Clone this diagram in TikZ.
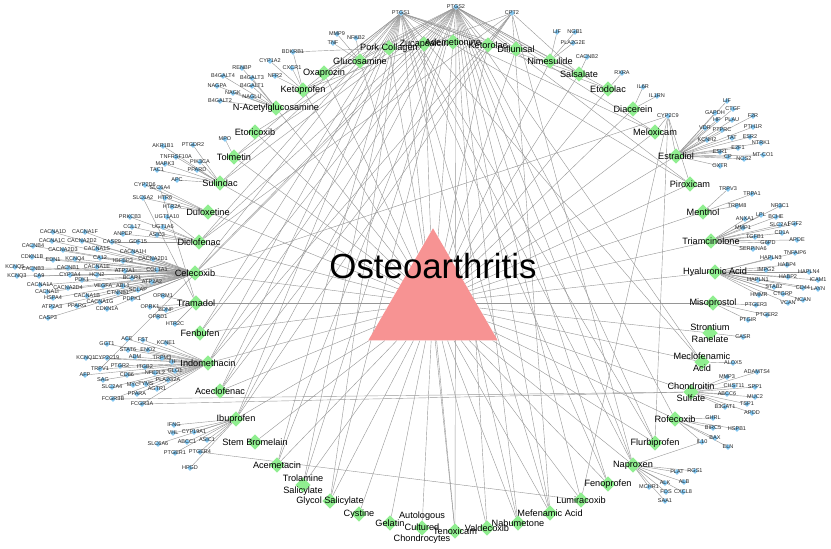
\documentclass[tikz,border=0pt]{standalone}
\usepackage{fontspec}
\setmainfont{Liberation Sans}
\usepackage{tikz}
\usetikzlibrary{shapes.geometric,backgrounds}

\definecolor{drugfill}{RGB}{144,238,144}
\definecolor{genefill}{RGB}{130,198,240}
\definecolor{hubfill}{RGB}{247,147,147}
\definecolor{linkgray}{RGB}{150,150,150}

\begin{document}
\begin{tikzpicture}
  [
  x=0.85pt, y=-0.85pt,
  dlabel/.style={font={\fontsize{7.8}{9.8}\selectfont}, align=center, inner sep=0pt},
  glabel/.style={font={\fontsize{4.7}{5.6}\selectfont}, text=black!85, inner sep=0pt},
  drug/.style={diamond, fill=drugfill, inner sep=0pt, minimum size=13pt,
      label={[dlabel]center:#1}},
  gene/.style={diamond, fill=genefill, inner sep=0pt, minimum size=5.2pt,
      label={[glabel]center:#1}},
  disease/.style={regular polygon, regular polygon sides=3, fill=hubfill,
      inner sep=0pt, minimum size=127pt},
  every edge/.style={draw=linkgray, line width=0.35pt},
  ]
  \useasboundingbox (0,0) rectangle (831,549);

  % Disease
  \node[disease] (oa) at (433,303) {};
  \node[font={\fontsize{29.6}{30}\selectfont}] (oatext) at (433,266) {Osteoarthritis};

  % Drugs, clockwise from the top
  \node[drug=Pork Collagen] (pork) at (389,48) {};
  \node[drug=Zucapsaicin] (zuca) at (424,44) {};
  \node[drug=Ademetionine] (adem) at (453,42) {};
  \node[drug=Ketorolac] (keto) at (488,45) {};
  \node[drug=Diflunisal] (difl) at (516,49) {};
  \node[drug=Nimesulide] (nime) at (550,61) {};
  \node[drug=Salsalate] (sals) at (579,74) {};
  \node[drug=Etodolac] (etod) at (608,89) {};
  \node[drug=Diacerein] (diac) at (633,109) {};
  \node[drug=Meloxicam] (melo) at (655,132) {};
  \node[drug=Estradiol] (estr) at (676,156) {};
  \node[drug=Piroxicam] (piro) at (690,184) {};
  \node[drug=Menthol] (ment) at (703,212) {};
  \node[drug=Triamcinolone] (tria) at (711,241) {};
  \node[drug=Hyaluronic Acid] (hyal) at (715,272) {};
  \node[drug=Misoprostol] (miso) at (713,303) {};
  \node[drug={Strontium\\Ranelate}] (stro) at (710,333) {};
  \node[drug={Meclofenamic\\Acid}] (mecl) at (702,362) {};
  \node[drug={Chondroitin\\Sulfate}] (chon) at (691,392) {};
  \node[drug=Rofecoxib] (rofe) at (675,419) {};
  \node[drug=Flurbiprofen] (flur) at (655,443) {};
  \node[drug=Naproxen] (napr) at (633,465) {};
  \node[drug=Fenoprofen] (feno) at (608,484) {};
  \node[drug=Lumiracoxib] (lumi) at (581,500) {};
  \node[drug=Mefenamic Acid] (mefe) at (550,513) {};
  \node[drug=Nabumetone] (nabu) at (518,523) {};
  \node[drug=Valdecoxib] (vald) at (487,528) {};
  \node[drug=Tenoxicam] (teno) at (455,531) {};
  \node[drug={Autologous\\Cultured\\Chondrocytes}] (auto) at (422,528) {};
  \node[drug=Gelatin] (gela) at (390,523) {};
  \node[drug=Cystine] (cyst) at (359,514) {};
  \node[drug=Glycol Salicylate] (glyc) at (330,501) {};
  \node[drug={Trolamine\\Salicylate}] (trol) at (303,485) {};
  \node[drug=Acemetacin] (acem) at (277,465) {};
  \node[drug=Stem Bromelain] (stem) at (255,442) {};
  \node[drug=Ibuprofen] (ibup) at (236,419) {};
  \node[drug=Aceclofenac] (acec) at (220,391) {};
  \node[drug=Indomethacin] (indo) at (208,363) {};
  \node[drug=Fenbufen] (fenb) at (200,333) {};
  \node[drug=Tramadol] (tram) at (196,303) {};
  \node[drug=Celecoxib] (celx) at (195,273) {};
  \node[drug=Diclofenac] (dicl) at (199,242) {};
  \node[drug=Duloxetine] (dulo) at (208,212) {};
  \node[drug=Sulindac] (suli) at (220,183) {};
  \node[drug=Tolmetin] (tolm) at (234,157) {};
  \node[drug=Etoricoxib] (etor) at (255,132) {};
  \node[drug=N-Acetylglucosamine] (nace) at (276,108) {};
  \node[drug=Ketoprofen] (ktpf) at (303,90) {};
  \node[drug=Oxaprozin] (oxap) at (324,73) {};
  \node[drug=Glucosamine] (gluc) at (360,61) {};

  % Targets, top
  \node[gene=PTGS1] (PTGS1) at (401,13) {};
  \node[gene=PTGS2] (PTGS2) at (456,7) {};
  \node[gene=CPT2] (CPT2) at (512,13) {};
  \node[gene=MMP9] (MMP9) at (337,34) {};
  \node[gene=NFKB2] (NFKB2) at (356,38) {};
  \node[gene=TNF] (TNF) at (333,43) {};
  \node[gene=BDKRB1] (BDKRB1) at (293,52) {};
  \node[gene=CYP1A2] (CYP1A2) at (270,61) {};
  \node[gene=CXCR1] (CXCR1) at (292,68) {};
  \node[gene=RENBP] (RENBP) at (242,68) {};
  \node[gene=B4GALT4] (B4GALT4) at (223,76) {};
  \node[gene=B4GALT3] (B4GALT3) at (252,78) {};
  \node[gene=NFR2] (NFR2) at (275,76) {};
  \node[gene=NAGPA] (NAGPA) at (217,86) {};
  \node[gene=B4GALT1] (B4GALT1) at (252,86) {};
  \node[gene=NAGK] (NAGK) at (233,93) {};
  \node[gene=NAGLU] (NAGLU) at (252,97) {};
  \node[gene=B4GALT2] (B4GALT2) at (220,101) {};
  \node[gene=MPO] (MPO) at (225,139) {};
  \node[gene=LIF] (LIFa) at (557,32) {};
  \node[gene=NGB1] (NGB1) at (575,32) {};
  \node[gene=PLA2G2E] (PLA2G2E) at (573,43) {};
  \node[gene=CACNB2] (CACNB2) at (587,57) {};
  \node[gene=RXRA] (RXRA) at (622,73) {};
  \node[gene=IL6R] (IL6R) at (643,87) {};
  \node[gene=IL1RN] (IL1RN) at (657,96) {};

  % Targets, right
  \node[gene=CYP2C9] (CYP2C9) at (668,116) {};
  \node[gene=LIF] (LIF) at (727,101) {};
  \node[gene=GAPDH] (GAPDH) at (715,113) {};
  \node[gene=CTGF] (CTGF) at (733,109) {};
  \node[gene=F2R] (F2R) at (753,116) {};
  \node[gene=HP] (HP) at (717,120) {};
  \node[gene=PLAU] (PLAU) at (732,120) {};
  \node[gene=VDR] (VDR) at (705,128) {};
  \node[gene=PTPRC] (PTPRC) at (722,130) {};
  \node[gene=PTH1R] (PTH1R) at (753,127) {};
  \node[gene=KCNH2] (KCNH2) at (707,140) {};
  \node[gene=TAT] (TAT) at (732,138) {};
  \node[gene=ESR2] (ESR2) at (750,137) {};
  \node[gene=NTRK1] (NTRK1) at (761,143) {};
  \node[gene=E2F1] (E2F1) at (738,148) {};
  \node[gene=ESR1] (ESR1) at (720,152) {};
  \node[gene=MT-CO1] (MTCO1) at (763,155) {};
  \node[gene=CP] (CP) at (728,157) {};
  \node[gene=NOS2] (NOS2) at (744,159) {};
  \node[gene=OXTR] (OXTR) at (720,166) {};
  \node[gene=TRPV3] (TRPV3) at (728,189) {};
  \node[gene=TRPA1] (TRPA1) at (752,194) {};
  \node[gene=TRPM8] (TRPM8) at (737,206) {};
  \node[gene=NR3C1] (NR3C1) at (780,206) {};
  \node[gene=LPL] (LPL) at (761,215) {};
  \node[gene=BCHE] (BCHE) at (776,217) {};
  \node[gene=ANXA1] (ANXA1) at (745,219) {};
  \node[gene=FGF2] (FGF2) at (795,224) {};
  \node[gene=SLC2A1] (SLC2A1) at (780,225) {};
  \node[gene=MMP1] (MMP1) at (743,228) {};
  \node[gene=CD1A] (CD1A) at (782,233) {};
  \node[gene=APOE] (APOE) at (797,240) {};
  \node[gene=TGFB1] (TGFB1) at (755,237) {};
  \node[gene=G6PD] (G6PD) at (768,243) {};
  \node[gene=SERPINA6] (SERPINA6) at (753,249) {};
  \node[gene=TNFAIP6] (TNFAIP6) at (795,253) {};
  \node[gene=HAPLN3] (HAPLN3) at (771,258) {};
  \node[gene=HABP4] (HABP4) at (787,265) {};
  \node[gene=HAPLN4] (HAPLN4) at (809,272) {};
  \node[gene=IMPG2] (IMPG2) at (766,270) {};
  \node[gene=HABP2] (HABP2) at (788,277) {};
  \node[gene=ICAM1] (ICAM1) at (818,280) {};
  \node[gene=HAPLN1] (HAPLN1) at (758,280) {};
  \node[gene=STAB2] (STAB2) at (774,287) {};
  \node[gene=CD44] (CD44) at (803,288) {};
  \node[gene=LAYN] (LAYN) at (818,289) {};
  \node[gene=HMMR] (HMMR) at (759,295) {};
  \node[gene=CTGRP] (CTGRP) at (783,294) {};
  \node[gene=NCAN] (NCAN) at (803,300) {};
  \node[gene=VCAN] (VCAN) at (788,303) {};
  \node[gene=PTGER3] (PTGER3) at (756,305) {};
  \node[gene=PTGER2] (PTGER2) at (767,315) {};
  \node[gene=PTGIR] (PTGIR) at (748,320) {};
  \node[gene=CASR] (CASR) at (743,337) {};
  \node[gene=ALOX5] (ALOX5) at (733,363) {};
  \node[gene=ADAMTS4] (ADAMTS4) at (757,372) {};
  \node[gene=MMP3] (MMP3) at (727,377) {};
  \node[gene=CHST11] (CHST11) at (734,386) {};
  \node[gene=SPP1] (SPP1) at (755,387) {};
  \node[gene=ABCC6] (ABCC6) at (727,394) {};
  \node[gene=MUC2] (MUC2) at (755,397) {};
  \node[gene=TSP1] (TSP1) at (747,404) {};
  \node[gene=B3GAT1] (B3GAT1) at (725,407) {};
  \node[gene=APOD] (APOD) at (752,413) {};
  \node[gene=GHRL] (GHRL) at (713,418) {};
  \node[gene=BIRC5] (BIRC5) at (713,428) {};
  \node[gene=HSPB1] (HSPB1) at (737,429) {};
  \node[gene=BAX] (BAX) at (715,438) {};
  \node[gene=IL10] (IL10) at (702,442) {};
  \node[gene=ELN] (ELN) at (728,447) {};
  \node[gene=PLAT] (PLAT) at (677,472) {};
  \node[gene=RGS1] (RGS1) at (695,471) {};
  \node[gene=ALK] (ALK) at (665,483) {};
  \node[gene=ALB] (ALB) at (684,482) {};
  \node[gene=MCHR1] (MCHR1) at (649,487) {};
  \node[gene=FOS] (FOS) at (666,492) {};
  \node[gene=CXCL8] (CXCL8) at (683,492) {};
  \node[gene=SAA1] (SAA1) at (665,501) {};

  % Targets, left
  \node[gene=AKR1B1] (AKR1B1) at (163,146) {};
  \node[gene=PTGDR2] (PTGDR2) at (193,145) {};
  \node[gene=TNFRSF10A] (TNFRSF10A) at (176,157) {};
  \node[gene=PIK3CA] (PIK3CA) at (200,162) {};
  \node[gene=MAPK3] (MAPK3) at (165,164) {};
  \node[gene=PPARD] (PPARD) at (197,170) {};
  \node[gene=TAC1] (TAC1) at (157,170) {};
  \node[gene=APC] (APC) at (177,180) {};
  \node[gene=CYP2D6] (CYP2D6) at (145,185) {};
  \node[gene=SLC6A4] (SLC6A4) at (160,188) {};
  \node[gene=SLC6A2] (SLC6A2) at (143,198) {};
  \node[gene=HTR6] (HTR6) at (165,198) {};
  \node[gene=HTR2A] (HTR2A) at (172,207) {};
  \node[gene=PRKCB3] (PRKCB3) at (130,217) {};
  \node[gene=UGT1A10] (UGT1A10) at (167,217) {};
  \node[gene=CCL17] (CCL17) at (132,227) {};
  \node[gene=UGT1A6] (UGT1A6) at (163,227) {};
  \node[gene=ANPEP] (ANPEP) at (123,234) {};
  \node[gene=ASIC3] (ASIC3) at (157,235) {};
  \node[gene=CACNA1D] (CACNA1D) at (53,232) {};
  \node[gene=CACNA1F] (CACNA1F) at (85,232) {};
  \node[gene=CACNA1C] (CACNA1C) at (52,241) {};
  \node[gene=CACNA2D2] (CACNA2D2) at (82,241) {};
  \node[gene=CASP9] (CASP9) at (112,242) {};
  \node[gene=GDF15] (GDF15) at (138,242) {};
  \node[gene=CACNB4] (CACNB4) at (33,246) {};
  \node[gene=CACNA2D3] (CACNA2D3) at (63,250) {};
  \node[gene=CACNA1S] (CACNA1S) at (97,249) {};
  \node[gene=CACNA1H] (CACNA1H) at (133,252) {};
  \node[gene=CACNA2D1] (CACNA2D1) at (153,259) {};
  \node[gene=CDKN1B] (CDKN1B) at (32,257) {};
  \node[gene=EDN1] (EDN1) at (53,260) {};
  \node[gene=KCNQ4] (KCNQ4) at (75,259) {};
  \node[gene=CA12] (CA12) at (100,258) {};
  \node[gene=IGFBP3] (IGFBP3) at (123,261) {};
  \node[gene=KCNQ5] (KCNQ5) at (15,267) {};
  \node[gene=CACNB3] (CACNB3) at (33,269) {};
  \node[gene=CACNB1] (CACNB1) at (68,268) {};
  \node[gene=CACNA1E] (CACNA1E) at (97,267) {};
  \node[gene=ATP2A1] (ATP2A1) at (125,271) {};
  \node[gene=COL1A1] (COL1A1) at (157,270) {};
  \node[gene=KCNQ3] (KCNQ3) at (17,276) {};
  \node[gene=CA9] (CA9) at (39,276) {};
  \node[gene=CYP3A4] (CYP3A4) at (70,275) {};
  \node[gene=HCN2] (HCN2) at (97,275) {};
  \node[gene=PDK1] (PDK1) at (82,280) {};
  \node[gene=BCAR1] (BCAR1) at (132,278) {};
  \node[gene=ATP2A2] (ATP2A2) at (152,282) {};
  \node[gene=CACNA1A] (CACNA1A) at (40,285) {};
  \node[gene=CACNA2D4] (CACNA2D4) at (68,288) {};
  \node[gene=VEGFA] (VEGFA) at (103,286) {};
  \node[gene=ABL1] (ABL1) at (123,286) {};
  \node[gene=CACNA1I] (CACNA1I) at (47,292) {};
  \node[gene=SCLAP] (SCLAP) at (138,290) {};
  \node[gene=CTNNB1] (CTNNB1) at (118,293) {};
  \node[gene=HSPA4] (HSPA4) at (53,298) {};
  \node[gene=CACNA1B] (CACNA1B) at (87,296) {};
  \node[gene=OPRM1] (OPRM1) at (163,296) {};
  \node[gene=PDPK1] (PDPK1) at (132,299) {};
  \node[gene=CACNA1G] (CACNA1G) at (100,302) {};
  \node[gene=PPARG] (PPARG) at (77,306) {};
  \node[gene=ATP2A3] (ATP2A3) at (52,307) {};
  \node[gene=OPRK1] (OPRK1) at (150,307) {};
  \node[gene=CDKN1A] (CDKN1A) at (107,309) {};
  \node[gene=BDNF] (BDNF) at (166,310) {};
  \node[gene=OPRD1] (OPRD1) at (158,317) {};
  \node[gene=CASP3] (CASP3) at (48,318) {};
  \node[gene=HTR2C] (HTR2C) at (175,324) {};
  \node[gene=ACE] (ACE) at (127,339) {};
  \node[gene=FST] (FST) at (143,340) {};
  \node[gene=KCNE1] (KCNE1) at (166,343) {};
  \node[gene=GGT1] (GGT1) at (107,344) {};
  \node[gene=STAT6] (STAT6) at (128,350) {};
  \node[gene=ENO2] (ENO2) at (148,350) {};
  \node[gene=KCNQ1] (KCNQ1) at (86,358) {};
  \node[gene=CYP2C19] (CYP2C19) at (107,358) {};
  \node[gene=ADM] (ADM) at (135,357) {};
  \node[gene=TRPM3] (TRPM3) at (162,358) {};
  \node[gene=TH] (TH) at (172,362) {};
  \node[gene=PTGR2] (PTGR2) at (120,366) {};
  \node[gene=ITGB2] (ITGB2) at (145,367) {};
  \node[gene=TRPV1] (TRPV1) at (100,369) {};
  \node[gene=AFP] (AFP) at (85,375) {};
  \node[gene=CD86] (CD86) at (127,375) {};
  \node[gene=NFE2L2] (NFE2L2) at (155,373) {};
  \node[gene=GLO1] (GLO1) at (175,371) {};
  \node[gene=SAG] (SAG) at (103,380) {};
  \node[gene=PLA2G2A] (PLA2G2A) at (168,380) {};
  \node[gene=MYC] (MYC) at (133,385) {};
  \node[gene=TYMS] (TYMS) at (146,384) {};
  \node[gene=SLC2A4] (SLC2A4) at (112,387) {};
  \node[gene=AGTR1] (AGTR1) at (157,389) {};
  \node[gene=PPARA] (PPARA) at (137,394) {};
  \node[gene=FCGR3B] (FCGR3B) at (113,399) {};
  \node[gene=FCGR3A] (FCGR3A) at (142,404) {};
  \node[gene=IFNG] (IFNG) at (174,425) {};
  \node[gene=VHL] (VHL) at (173,433) {};
  \node[gene=CYP19A1] (CYP19A1) at (194,432) {};
  \node[gene=ABCC1] (ABCC1) at (187,442) {};
  \node[gene=ASIC1] (ASIC1) at (207,440) {};
  \node[gene=SLC6A6] (SLC6A6) at (158,444) {};
  \node[gene=PTGER1] (PTGER1) at (175,453) {};
  \node[gene=PTGER4] (PTGER4) at (200,452) {};
  \node[gene=HPGD] (HPGD) at (190,468) {};

  \begin{scope}[on background layer]
  % Disease to drugs
  \path (oa) edge (pork) edge (zuca) edge (adem) edge (keto) edge (difl)
        edge (nime) edge (sals) edge (etod) edge (diac) edge (melo)
        edge (estr) edge (piro) edge (ment) edge (tria) edge (hyal)
        edge (miso) edge (stro) edge (mecl) edge (chon) edge (rofe)
        edge (flur) edge (napr) edge (feno) edge (lumi) edge (mefe)
        edge (nabu) edge (vald) edge (teno) edge (auto) edge (gela)
        edge (cyst) edge (glyc) edge (trol) edge (acem) edge (stem)
        edge (ibup) edge (acec) edge (indo) edge (fenb) edge (tram)
        edge (celx) edge (dicl) edge (dulo) edge (suli) edge (tolm)
        edge (etor) edge (nace) edge (ktpf) edge (oxap) edge (gluc);

  % Shared targets
  \path (PTGS1) edge (pork) edge (oxap) edge (ktpf) edge (tolm) edge (suli)
        edge (dicl) edge (celx) edge (fenb) edge (indo) edge (acec)
        edge (ibup) edge (acem) edge (trol) edge (glyc) edge (teno)
        edge (nabu) edge (mefe) edge (feno) edge (napr) edge (flur)
        edge (mecl) edge (piro) edge (melo) edge (etod) edge (sals)
        edge (difl) edge (keto);
  \path (PTGS2) edge (gluc) edge (oxap) edge (ktpf) edge (etor) edge (tolm)
        edge (suli) edge (dicl) edge (celx) edge (fenb) edge (indo)
        edge (acec) edge (ibup) edge (acem) edge (trol) edge (glyc)
        edge (teno) edge (vald) edge (nabu) edge (mefe) edge (lumi)
        edge (feno) edge (napr) edge (flur) edge (rofe) edge (mecl)
        edge (piro) edge (melo) edge (etod) edge (sals) edge (nime)
        edge (difl) edge (keto) edge (adem) edge (zuca);
  \path (CPT2) edge (ktpf) edge (dicl) edge (indo) edge (acec) edge (ibup)
        edge (mefe) edge (napr) edge (sals) edge (keto);
  \path (CYP2C9) edge (melo) edge (estr) edge (piro) edge (flur) edge (lumi)
        edge (celx);
  \path (TRPV1) edge (indo) edge (zuca);
  \path (FCGR3B) edge (indo) edge (chon);
  \path (FCGR3A) edge (indo) edge (chon);
  \path (PTGER4) edge (ibup) edge (lumi);
  \path (IL10) edge (rofe) edge (napr);

  % Drug targets
  \path (gluc) edge (MMP9) edge (NFKB2) edge (TNF);
  \path (pork) edge (BDKRB1);
  \path (ktpf) edge (BDKRB1) edge (CYP1A2) edge (CXCR1) edge (NFR2);
  \path (nace) edge (RENBP) edge (B4GALT4) edge (B4GALT3) edge (NAGPA)
        edge (B4GALT1) edge (NAGK) edge (NAGLU) edge (B4GALT2);
  \path (tolm) edge (MPO);
  \path (nime) edge (LIFa) edge (NGB1) edge (PLA2G2E);
  \path (sals) edge (CACNB2);
  \path (etod) edge (RXRA);
  \path (diac) edge (IL6R) edge (IL1RN);
  \path (estr) edge (LIF) edge (GAPDH) edge (CTGF) edge (F2R) edge (HP)
        edge (PLAU) edge (VDR) edge (PTPRC) edge (PTH1R) edge (KCNH2)
        edge (TAT) edge (ESR2) edge (NTRK1) edge (E2F1) edge (ESR1)
        edge (MTCO1) edge (CP) edge (NOS2) edge (OXTR);
  \path (ment) edge (TRPV3) edge (TRPA1) edge (TRPM8);
  \path (tria) edge (NR3C1) edge (LPL) edge (BCHE) edge (ANXA1) edge (FGF2)
        edge (SLC2A1) edge (MMP1) edge (CD1A) edge (APOE) edge (TGFB1)
        edge (G6PD) edge (SERPINA6);
  \path (hyal) edge (TNFAIP6) edge (HAPLN3) edge (HABP4) edge (HAPLN4)
        edge (IMPG2) edge (HABP2) edge (ICAM1) edge (HAPLN1) edge (STAB2)
        edge (CD44) edge (LAYN) edge (HMMR) edge (CTGRP) edge (NCAN)
        edge (VCAN);
  \path (miso) edge (PTGER3) edge (PTGER2) edge (PTGIR);
  \path (stro) edge (CASR);
  \path (mecl) edge (ALOX5);
  \path (chon) edge (MMP3) edge (ADAMTS4) edge (CHST11) edge (SPP1)
        edge (ABCC6) edge (MUC2) edge (TSP1) edge (B3GAT1) edge (APOD);
  \path (rofe) edge (GHRL) edge (BIRC5) edge (HSPB1) edge (BAX) edge (ELN);
  \path (napr) edge (PLAT) edge (RGS1) edge (ALK) edge (ALB) edge (MCHR1)
        edge (FOS) edge (CXCL8) edge (SAA1);
  \path (suli) edge (AKR1B1) edge (PTGDR2) edge (TNFRSF10A) edge (PIK3CA)
        edge (MAPK3) edge (PPARD) edge (TAC1) edge (APC);
  \path (dulo) edge (CYP2D6) edge (SLC6A4) edge (SLC6A2) edge (HTR6)
        edge (HTR2A);
  \path (dicl) edge (PRKCB3) edge (UGT1A10) edge (CCL17) edge (UGT1A6)
        edge (ANPEP) edge (ASIC3) edge (CASP9) edge (GDF15);
  \path (celx) edge (CACNA1D) edge (CACNA1F) edge (CACNA1C) edge (CACNA2D2)
        edge (CACNB4) edge (CACNA2D3) edge (CACNA1S) edge (CACNA1H)
        edge (CACNA2D1) edge (CDKN1B) edge (EDN1) edge (KCNQ4) edge (CA12)
        edge (IGFBP3) edge (KCNQ5) edge (CACNB3) edge (CACNB1)
        edge (CACNA1E) edge (ATP2A1) edge (COL1A1) edge (KCNQ3) edge (CA9)
        edge (CYP3A4) edge (HCN2) edge (PDK1) edge (BCAR1) edge (ATP2A2)
        edge (CACNA1A) edge (CACNA2D4) edge (VEGFA) edge (ABL1)
        edge (CACNA1I) edge (SCLAP) edge (CTNNB1) edge (HSPA4)
        edge (CACNA1B) edge (PDPK1) edge (CACNA1G) edge (PPARG)
        edge (ATP2A3) edge (CDKN1A) edge (CASP3);
  \path (tram) edge (OPRM1) edge (OPRK1) edge (BDNF) edge (OPRD1)
        edge (HTR2C) edge (SLC6A4) edge (SLC6A2);
  \path (indo) edge (ACE) edge (FST) edge (KCNE1) edge (GGT1) edge (STAT6)
        edge (ENO2) edge (KCNQ1) edge (CYP2C19) edge (ADM) edge (TRPM3)
        edge (TH) edge (PTGR2) edge (ITGB2) edge (AFP) edge (CD86)
        edge (NFE2L2) edge (GLO1) edge (SAG) edge (PLA2G2A) edge (MYC)
        edge (TYMS) edge (SLC2A4) edge (AGTR1) edge (PPARA);
  \path (ibup) edge (IFNG) edge (VHL) edge (CYP19A1) edge (ABCC1)
        edge (ASIC1) edge (SLC6A6) edge (PTGER1) edge (HPGD);
  \end{scope}
\end{tikzpicture}
\end{document}
